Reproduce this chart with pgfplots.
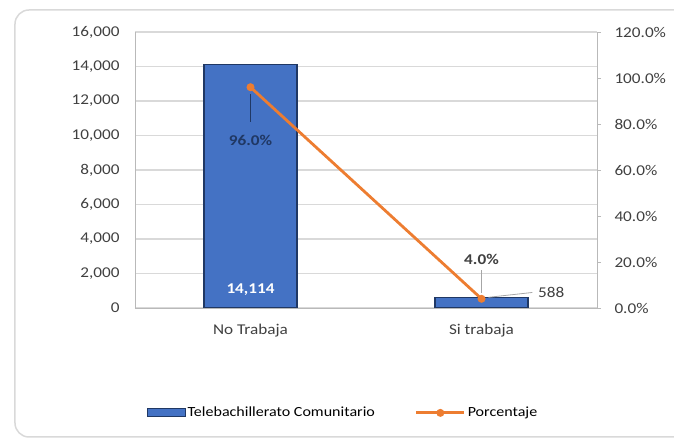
\documentclass[border=0pt]{standalone}
\usepackage{pgfplots}
\pgfplotsset{compat=1.18}
\usepackage{fontspec}
\setmainfont{Carlito}[FakeStretch=1.15]
\definecolor{barblue}{HTML}{4472C4}
\definecolor{bardark}{HTML}{203864}
\definecolor{lineorange}{HTML}{ED7D31}
\definecolor{gridgray}{HTML}{D9D9D9}
\definecolor{txtgray}{HTML}{404040}

\pgfplotsset{
  base/.style={
    scale only axis, width=462bp, height=276bp,
    at={(0,0)}, anchor=south west,
    xmin=-0.5, xmax=1.5,
    font=\fontsize{15}{17}\selectfont,
    tick label style={txtgray},
    /pgf/number format/assume math mode=true,
    axis line style={gray!55, line width=0.8bp},
  }
}

\begin{document}
\begin{tikzpicture}[x=1bp,y=1bp]
\useasboundingbox (-135,-133) rectangle (539,308);
\draw[gray!30, line width=1.5bp, rounded corners=14bp] (-120,-129) rectangle (560,298);

\begin{axis}[base,
  ybar, bar width=93bp,
  ymin=0, ymax=16000,
  xtick={0,1}, xticklabels={No Trabaja, Si trabaja},
  ytick={0,2000,...,16000},
  /pgf/number format/1000 sep={,},
  scaled y ticks=false,
  ymajorgrids, grid style={gridgray, line width=1.2bp},
  axis y line*=left, axis x line*=bottom,
  major tick length=0,
  yticklabel style={xshift=-12bp},
  xticklabel style={yshift=-13bp},
]
\addplot[fill=barblue, draw=bardark, line width=1.2bp] coordinates {(0,14114) (1,588)};
\node[white, font=\bfseries\fontsize{15}{17}\selectfont] at (axis cs:0,1050) {14,114};
\draw[gray!70, line width=0.8bp] (axis cs:1.03,620) -- (axis cs:1.22,900);
\node[anchor=west, txtgray] at (axis cs:1.23,900) {588};
\end{axis}

\begin{axis}[base,
  ymin=0, ymax=120,
  axis y line*=right, axis x line=none,
  ytick={0,20,...,120},
  yticklabel={\pgfmathprintnumber[fixed,fixed zerofill,precision=1]{\tick}\%},
  yticklabel style={anchor=west, xshift=10bp},
  tick align=outside, major tick length=4bp,
  major tick style={gray!55, line width=0.8bp},
  legend style={at={(0.45,-0.38)}, anchor=center, draw=none, fill=none,
    legend columns=-1, font=\fontsize{14}{16}\selectfont,
    /tikz/every even column/.append style={column sep=38bp}},
]
\addlegendimage{legend image code/.code={\draw[fill=barblue, draw=bardark, line width=1bp] (0bp,-4bp) rectangle (38bp,4bp);}}
\addlegendentry{Telebachillerato Comunitario}
\addplot[lineorange, line width=2.8bp, mark=*, mark size=2.5bp,
  legend image code/.code={\draw[lineorange, line width=2.8bp] (0bp,0bp) -- (48bp,0bp);
    \fill[lineorange] (24bp,0bp) circle (2.5bp);}]
  coordinates {(0,96) (1,4)};
\addlegendentry{Porcentaje}
\draw[bardark, line width=0.8bp] (axis cs:0,93) -- (axis cs:0,81);
\node[bardark, font=\bfseries\fontsize{15}{17}\selectfont] at (axis cs:0,73) {96.0\%};
\draw[gray!70, line width=0.8bp] (axis cs:1,6.5) -- (axis cs:1,16.5);
\node[txtgray, font=\bfseries\fontsize{15}{17}\selectfont] at (axis cs:1,21.3) {4.0\%};
\end{axis}
\end{tikzpicture}
\end{document}
